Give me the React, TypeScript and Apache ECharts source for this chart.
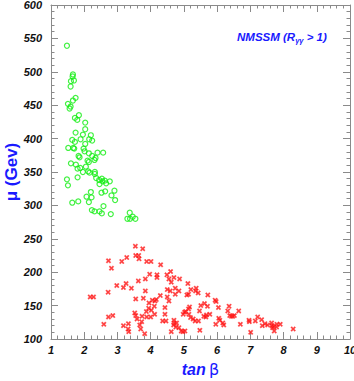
import React, { useEffect, useRef } from "react";
import * as echarts from "echarts";

const xTicks = [1, 2, 3, 4, 5, 6, 7, 8, 9, 10];
const yTicks = [100, 150, 200, 250, 300, 350, 400, 450, 500, 550, 600];

// Green: R_gamma gamma > 1, light-singlet region (tan beta, mu)
const greenPoints: [number, number][] = [
  [1.48, 539], [1.66, 496], [1.65, 493], [1.69, 487], [1.6, 486], [1.59, 478],
  [1.74, 461], [1.66, 457], [1.51, 452], [1.59, 448], [1.56, 445], [1.84, 435],
  [1.72, 431], [1.79, 428], [2.03, 424], [2.03, 414], [1.74, 409], [1.96, 406],
  [2.2, 405], [1.64, 398], [1.72, 395], [1.89, 399], [2.15, 399], [2.24, 397],
  [2.03, 392], [1.52, 386], [1.67, 386], [1.7, 385], [1.98, 385], [2.01, 381],
  [2.14, 378], [2.4, 379], [2.57, 379], [1.83, 374], [1.86, 372], [2.24, 374],
  [2.34, 371], [2.31, 368], [2.1, 367], [2.14, 365], [1.6, 363], [1.75, 361],
  [2.05, 358], [1.8, 355], [1.88, 356], [1.96, 350], [2.12, 351], [2.16, 349],
  [2.32, 350], [2.32, 347], [1.8, 342], [1.48, 339], [2.36, 341], [2.45, 338],
  [2.53, 340], [2.62, 337], [2.77, 336], [2.46, 332], [2.55, 336], [2.66, 333],
  [1.51, 330], [2.91, 322], [2.2, 320], [2.52, 319], [2.63, 321], [2.07, 313],
  [2.22, 312], [2.82, 315], [2.93, 308], [1.82, 306], [1.64, 304], [2.14, 305],
  [2.58, 299], [2.23, 293], [2.31, 291], [2.46, 291], [2.53, 288], [2.8, 287],
  [3.37, 289], [3.3, 280], [3.38, 280], [3.46, 283], [3.54, 280],
];

// Red: heavier-singlet region
const redPoints: [number, number][] = [
  [3.54, 239], [3.76, 235], [3.55, 225], [3.64, 225], [3.65, 220], [3.28, 222],
  [3.13, 216], [2.73, 217], [2.82, 206], [3.88, 216], [4.01, 216], [4.3, 211],
  [3.97, 197], [3.84, 190], [4.19, 196], [4.19, 192], [3.63, 187], [3.26, 183],
  [2.98, 180], [3.18, 177], [3.42, 176], [2.72, 170], [3.84, 172], [2.18, 163],
  [2.28, 163], [3.55, 160], [3.78, 161], [4.05, 158], [4.13, 157], [4.17, 159],
  [4.29, 165], [3.95, 154], [4.11, 149], [3.94, 146], [4.02, 143], [2.73, 133],
  [2.86, 135], [3.52, 139], [3.55, 135], [3.74, 134], [3.88, 133], [3.87, 141],
  [4.0, 133], [4.12, 137], [3.59, 130], [3.73, 126], [2.59, 122], [3.18, 120],
  [3.33, 123], [3.32, 115], [3.34, 111], [3.67, 121], [3.7, 115], [3.82, 108],
  [4.6, 201], [4.49, 196], [4.55, 190], [4.7, 192], [4.87, 190], [4.5, 174],
  [4.59, 172], [4.74, 176], [4.85, 172], [4.74, 167], [4.5, 163], [4.55, 157],
  [4.43, 147], [4.43, 137], [4.36, 127], [4.46, 127], [4.7, 128], [4.71, 124],
  [4.78, 124], [4.76, 118], [4.62, 111], [4.92, 112], [4.98, 137], [5.05, 141],
  [5.14, 145], [5.09, 166], [5.12, 183], [4.62, 185], [4.69, 121], [4.85, 117],
  [4.97, 111], [5.03, 112], [5.02, 140],
  [5.21, 174], [5.37, 176], [5.35, 172], [5.43, 169], [5.14, 167], [5.72, 166],
  [5.94, 158], [5.97, 156], [5.62, 153], [5.51, 150], [5.71, 149], [5.17, 148],
  [6.04, 147], [6.36, 149], [6.32, 142], [6.65, 142], [5.47, 142], [5.78, 137],
  [5.68, 136], [5.6, 134], [5.15, 137], [5.2, 132], [5.28, 130], [5.34, 127],
  [5.44, 127], [5.66, 133], [6.38, 135], [6.43, 134], [6.47, 134], [6.52, 135],
  [6.05, 131], [6.08, 128], [6.17, 124], [6.2, 121], [5.96, 122], [6.7, 122],
  [6.96, 128], [6.97, 126], [7.15, 127], [7.22, 133], [7.34, 129], [7.36, 120],
  [7.44, 123], [7.52, 121], [7.64, 124], [7.65, 120], [7.7, 119], [7.8, 122],
  [7.9, 122], [7.79, 118], [7.72, 112], [7.67, 117], [8.29, 115], [7.01, 110],
  [5.48, 113],
];

const FONT = "'Liberation Sans', Arial, Helvetica, sans-serif";
const BLUE = "#1a1aff";
const AXIS_GREY = "#8a8a8a";

const crossPath =
  "path://M0.22,0 L0.5,0.3 L0.78,0 L1,0.22 L0.7,0.5 L1,0.78 L0.78,1 L0.5,0.7 L0.22,1 L0,0.78 L0.3,0.5 L0,0.22 Z";

function axisCommon(showLabels: boolean) {
  return {
    axisLine: { show: true, lineStyle: { color: AXIS_GREY, width: 1 } },
    axisTick: { show: true, inside: true, length: 7, lineStyle: { color: AXIS_GREY } },
    minorTick: { show: true, splitNumber: 5, length: 3.5, lineStyle: { color: AXIS_GREY } },
    splitLine: { show: false },
    axisLabel: {
      show: showLabels,
      color: "#111",
      fontFamily: FONT,
      fontWeight: "bold" as const,
      fontStyle: "italic" as const,
      fontSize: 11,
    },
  };
}

export default function App() {
  const ref = useRef<HTMLDivElement>(null);
  useEffect(() => {
    if (!ref.current) return;
    const chart = echarts.init(ref.current, null, { renderer: "svg" });
    const xMin = xTicks[0];
    const xMax = xTicks[xTicks.length - 1];
    const yMin = yTicks[0];
    const yMax = yTicks[yTicks.length - 1];
    chart.setOption({
      animation: false,
      backgroundColor: "#ffffff",
      grid: { left: 51, right: 4, top: 5, bottom: 42, containLabel: false, outerBoundsMode: "none" },
      xAxis: [
        {
          type: "value",
          min: xMin,
          max: xMax,
          interval: 1,
          ...axisCommon(true),
          axisLabel: { ...axisCommon(true).axisLabel, margin: 5 },
          name: "{a|tan} {b|β}",
          nameLocation: "middle",
          nameGap: 22,
          nameTextStyle: {
            rich: {
              a: { fontFamily: FONT, fontSize: 16, fontWeight: "bold", fontStyle: "italic", color: BLUE },
              b: { fontFamily: "'DejaVu Sans', sans-serif", fontSize: 16, color: BLUE },
            },
          },
        },
        {
          type: "value",
          position: "top",
          min: xMin,
          max: xMax,
          interval: 1,
          ...axisCommon(false),
        },
      ],
      yAxis: [
        {
          type: "value",
          min: yMin,
          max: yMax,
          interval: 50,
          ...axisCommon(true),
          axisLabel: { ...axisCommon(true).axisLabel, margin: 9 },
        },
        {
          type: "value",
          position: "right",
          min: yMin,
          max: yMax,
          interval: 50,
          ...axisCommon(false),
        },
      ],
      graphic: [
        {
          type: "text",
          x: 11,
          y: 172,
          rotation: Math.PI / 2,
          style: {
            text: "μ (Gev)",
            fontFamily: FONT,
            fontSize: 17,
            fontWeight: "bold",
            fill: BLUE,
            align: "center",
            verticalAlign: "middle",
          },
        },
        {
          type: "text",
          left: 237,
          top: 31,
          style: {
            text: "{t|NMSSM (R}{s|γγ}{t| > 1)}",
            rich: {
              t: { fontFamily: FONT, fontSize: 11.5, fontWeight: "bold", fontStyle: "italic", fill: BLUE },
              s: {
                fontFamily: FONT,
                fontSize: 7.5,
                fontWeight: "bold",
                fontStyle: "italic",
                fill: BLUE,
                padding: [6, 0, 0, 0],
              },
            },
          },
        },
      ],
      series: [
        {
          type: "scatter",
          name: "green",
          xAxisIndex: 0,
          yAxisIndex: 0,
          data: greenPoints,
          symbol: "circle",
          symbolSize: 5,
          itemStyle: { color: "rgba(0,0,0,0)", borderColor: "#11ee11", borderWidth: 1.2 },
        },
        {
          type: "scatter",
          name: "red",
          xAxisIndex: 0,
          yAxisIndex: 0,
          data: redPoints,
          symbol: crossPath,
          symbolSize: 5,
          itemStyle: { color: "#ff1010", borderColor: "rgba(255,60,60,0.35)", borderWidth: 1 },
        },
      ],
    });
    return () => chart.dispose();
  }, []);
  return (
    <div
      ref={ref}
      style={{ position: "fixed", left: 0, top: 0, width: 354, height: 381, background: "#fff" }}
    />
  );
}
